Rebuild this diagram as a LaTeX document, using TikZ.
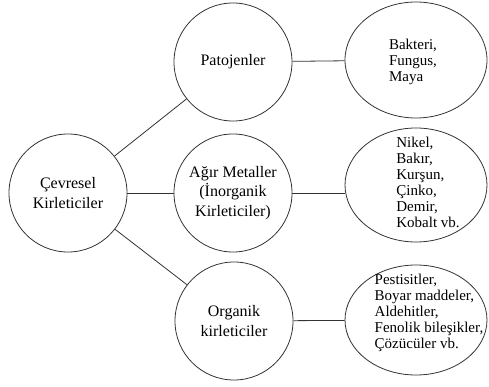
\documentclass[tikz,border=0pt]{standalone}
\usepackage{fontspec}
\setmainfont{Liberation Serif}
\usetikzlibrary{shapes.geometric}
\tikzset{
  ring/.style={circle,draw=black!80,line width=0.8pt,minimum size=118pt,inner sep=0pt,align=center,font=\fontsize{16}{19.5}\selectfont},
  oval/.style={ellipse,draw=black!80,line width=0.8pt,minimum width=142pt,inner sep=0pt},
  list/.style={align=left,inner sep=0pt,font=\fontsize{15}{16}\selectfont},
  link/.style={draw=black!80,line width=0.8pt}
}

\begin{document}
\begin{tikzpicture}[x=1pt,y=-1pt]
        \useasboundingbox (0,0) rectangle (489,387);

        \node[ring] (cev) at (68,193) {Çevresel\\Kirleticiler};
        \node[ring] (pat) at (233,62) {Patojenler};
        \node[ring] (agir) at (233,193) {Ağır Metaller\\(İnorganik\\Kirleticiler)};
        \node[ring] (org) at (234,321) {Organik\\kirleticiler};

        \node[oval,minimum height=116pt] (bak) at (416,60) {};
        \node[oval,minimum height=114pt] (nik) at (416,185) {};
        \node[oval,minimum height=110pt] (pes) at (416,320) {};

        \node[list] (bakt) at (413,62) {Bakteri,\\Fungus,\\Maya};
        \node[list] (nikt) at (428,182) {Nikel,\\Bakır,\\Kurşun,\\Çinko,\\Demir,\\Kobalt vb.};
        \node[list] (pest) at (429,313) {Pestisitler,\\Boyar maddeler,\\Aldehitler,\\Fenolik bileşikler,\\Çözücüler vb.};

        % dallar
        \draw[link] (cev) to (pat);
        \draw[link] (cev) to (agir);
        \draw[link] (cev) to (org);

        \draw[link] (pat) to (bak);
        \draw[link] (agir.east) to (agir.east -| nik.west);
        \draw[link] (org) to (pes);
\end{tikzpicture}
\end{document}
